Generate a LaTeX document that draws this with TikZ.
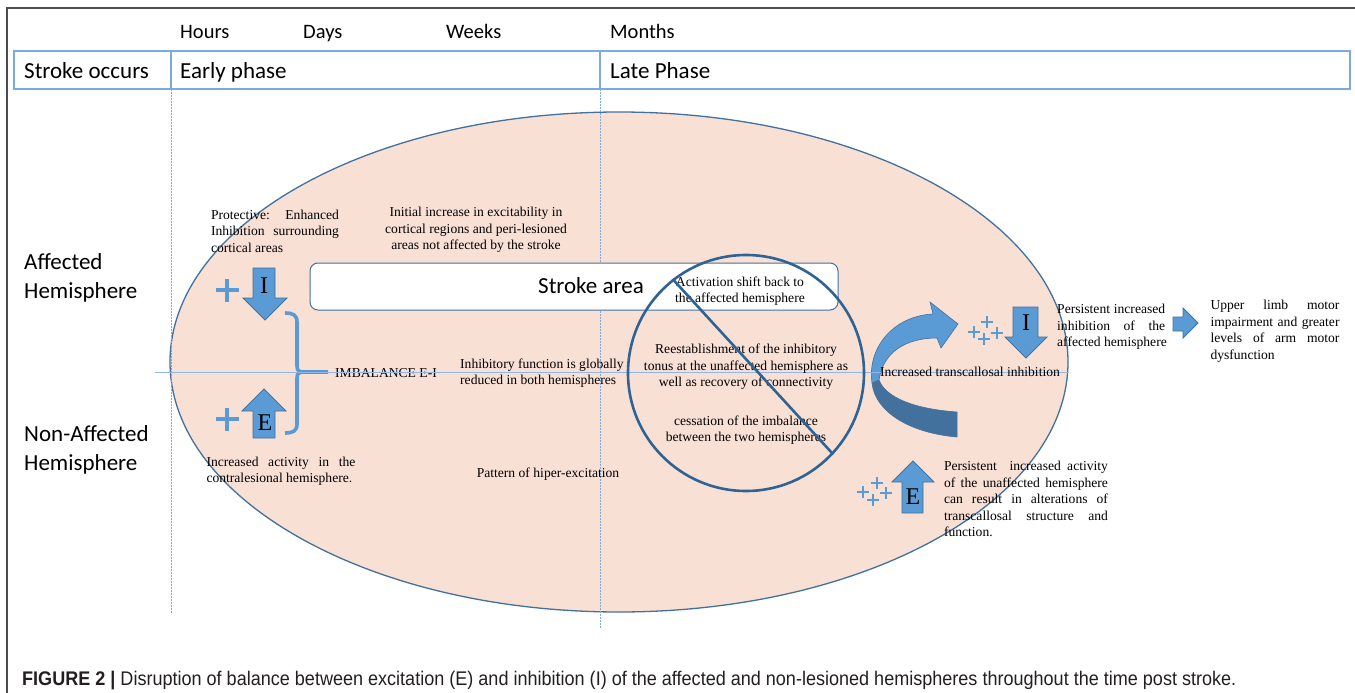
\documentclass[tikz,border=0pt]{standalone}
\usepackage{fontspec}
\setmainfont{Liberation Serif}
\newfontfamily\calfont{Carlito}
\newfontfamily\capfont{Liberation Sans}
\definecolor{bord}{HTML}{41719C}
\definecolor{fillb}{HTML}{5B9BD5}
\definecolor{peach}{HTML}{F9E0D5}
\definecolor{tlblue}{HTML}{79AAE0}
\definecolor{dotblue}{HTML}{8FB6E6}
\definecolor{dotv}{HTML}{7FAADF}
\definecolor{darkc}{HTML}{2F6394}
\definecolor{capgray}{HTML}{231F20}
\newcommand\jline[2]{\makebox[#1][s]{#2}}
\tikzset{
  serif/.style={font=\fontsize{13.6}{16.5}\selectfont, inner sep=0pt, align=center, text=black},
  serifl/.style={serif, align=left},
  calib/.style={font=\calfont\fontsize{23}{29}\selectfont, inner sep=0pt, align=left},
  tlab/.style={font=\calfont\fontsize{20.5}{24}\selectfont, inner sep=0pt, anchor=base west},
  blockarrow/.style={fill=fillb, draw=bord, line width=0.8pt},
  letter/.style={font=\fontsize{24}{24}\selectfont, inner sep=0pt},
  bigplus/.style={draw=fillb, line width=3.4pt},
  smallplus/.style={draw=fillb, line width=2.8pt},
  dotline/.style={draw=dotv, dash pattern=on 1.5pt off 1.5pt, line width=0.9pt},
}
\begin{document}
\begin{tikzpicture}[x=1pt,y=-1pt]
\useasboundingbox (0,0) rectangle (1355,693);
% outer frame
\draw[gray!60!black, line width=1.3pt] (7,693) -- (7,8) -- (1355,8);
% timeline
\draw[tlblue, line width=1.3pt] (14,51) rectangle (1350,89);
\draw[tlblue, line width=1.1pt] (171,51) -- (171,89);
\draw[tlblue, line width=1.1pt] (600,51) -- (600,89);
\node[tlab] (hours) at (180,39) {Hours};
\node[tlab] (days) at (303,39) {Days};
\node[tlab] (weeks) at (446,39) {Weeks};
\node[tlab] (months) at (610,39) {Months};
\node[calib, anchor=base west] (occ) at (24,78) {Stroke occurs};
\node[calib, anchor=base west] (early) at (180,78) {Early phase};
\node[calib, anchor=base west] (late) at (610,78) {Late Phase};
% hemisphere labels
\node[calib, anchor=west] (aff) at (24,278) {Affected\\Hemisphere};
\node[calib, anchor=west] (naff) at (24,450) {Non-Affected\\Hemisphere};
% ellipse
\draw[fill=peach, draw=bord, line width=1.3pt] (619,362) ellipse [x radius=449, y radius=250];
% dotted lines
\draw[dotline] (171,89) -- (171,613);
\draw[dotline] (600,89) -- (600,628);
% stroke area box
\draw[draw=bord, fill=white, line width=1pt, rounded corners=8pt] (310,263) rectangle (838,310);
\node[calib] (sarea) at (591,286) {Stroke area};
% left arrows
\draw[blockarrow] (253,268) -- (275,268) -- (275,298) -- (287,298) -- (265,320) -- (243,298) -- (253,298) -- cycle;
\node[letter] (Ileft) at (264,286) {I};
\draw[blockarrow] (264,389) -- (286,411) -- (275,411) -- (275,438) -- (253,438) -- (253,411) -- (242,411) -- cycle;
\node[letter] (Eleft) at (265,423) {E};
\draw[bigplus] (215.5,290) -- (238.5,290) (227,278.5) -- (227,301.5);
\draw[bigplus] (215.5,419) -- (238.5,419) (227,407.5) -- (227,430.5);
% brace
\draw[fillb, line width=3.6pt] (285,313) .. controls (293,313) and (297,315) .. (297,322) -- (297,366) .. controls (297,371) and (299,372) .. (305,372) -- (328,372);
\draw[fillb, line width=3.6pt] (285,433) .. controls (293,433) and (297,431) .. (297,424) -- (297,378) .. controls (297,373) and (299,372) .. (305,372);
% left texts
\node[serifl] (prot) at (275,231) {\jline{128pt}{Protective:\ \ \ Enhanced}\\\jline{128pt}{Inhibition\ \ surrounding}\\cortical areas};
\node[serif] (init) at (476,230) {Initial increase in excitability in\\cortical regions and peri-lesioned\\areas not affected by the stroke};
\node[serif, anchor=west] (imb) at (335,373) {IMBALANCE E-I};
\node[serifl, anchor=west] (inh) at (460,373) {Inhibitory function is globally\\reduced in both hemispheres};
\node[serifl] (incr) at (281,471) {\jline{149pt}{Increased activity in the}\\contralesional hemisphere.};
\node[serif] (patt) at (548,474) {Pattern of hiper-excitation};
% curved arrow
\draw[fill=bord, draw=bord, line width=0.6pt] (872,383) .. controls (875,412) and (910,433) .. (957,437) -- (957,412) .. controls (915,409) and (886,398) .. (879,380) -- cycle;
\draw[fill=fillb, draw=bord, line width=0.6pt] (872,383) .. controls (867,348) and (893,316) .. (933,314) -- (930,302) -- (958,324) -- (941,348) -- (937,338) .. controls (906,338) and (883,352) .. (879,380) -- cycle;
% horizontal mid line
\draw[dotblue, line width=1pt] (155,372) -- (1068,372);
% circle texts
\node[serif] (act) at (740,291) {Activation shift back to\\the affected hemisphere};
\node[serif] (reest) at (746,367) {Reestablishment of the inhibitory\\tonus at the unaffected hemisphere as\\well as recovery of connectivity};
\node[serif] (cess) at (746,430) {cessation of the imbalance\\between the two hemispheres};
% circle and slash
\node[circle, draw=darkc, line width=2.6pt, minimum size=236pt, inner sep=0pt] (circ) at (746,373) {};
\draw[darkc, line width=2.6pt] (circ.128) -- (circ.-43);
% right side
\node[serif] (trans) at (970,372) {Increased transcallosal inhibition};
\draw[blockarrow] (1013,307) -- (1038,307) -- (1038,337) -- (1047,337) -- (1026,358) -- (1005,337) -- (1013,337) -- cycle;
\node[letter] (Iright) at (1026,323) {I};
\draw[smallplus] (968,332) -- (980,332) (974,326) -- (974,338);
\draw[smallplus] (981,322) -- (993,322) (987,316) -- (987,328);
\draw[smallplus] (978,339) -- (990,339) (984,333) -- (984,345);
\draw[smallplus] (991,333) -- (1003,333) (997,327) -- (997,339);
\node[serifl] (pinh) at (1112,327) {\jline{108pt}{Persistent increased}\\\jline{108pt}{inhibition of the}\\affected hemisphere};
\draw[blockarrow] (1173,317) -- (1183,317) -- (1183,308) -- (1198,323) -- (1183,338) -- (1183,331) -- (1173,331) -- cycle;
\node[serifl] (upper) at (1275,331) {\jline{129pt}{Upper limb motor}\\\jline{129pt}{impairment and greater}\\\jline{129pt}{levels of arm motor}\\dysfunction};
\draw[blockarrow] (913,461) -- (934,482) -- (923,482) -- (923,513) -- (902,513) -- (902,482) -- (892,482) -- cycle;
\node[letter] (Eright) at (913,497) {E};
\draw[smallplus] (857,492) -- (869,492) (863,486) -- (863,498);
\draw[smallplus] (871,483) -- (883,483) (877,477) -- (877,489);
\draw[smallplus] (867,500) -- (879,500) (873,494) -- (873,506);
\draw[smallplus] (880,493) -- (892,493) (886,487) -- (886,499);
\node[serifl] (pact) at (1026,499) {\jline{164pt}{Persistent\ \ increased activity}\\\jline{164pt}{of the unaffected hemisphere}\\\jline{164pt}{can result in alterations of}\\\jline{164pt}{transcallosal structure and}\\function.};
% caption
\node[anchor=base west, inner sep=0pt, text=capgray] (cap) at (22,685) {\resizebox{1214pt}{14.3pt}{\capfont\textbf{FIGURE 2 |} Disruption of balance between excitation (E) and inhibition (I) of the affected and non-lesioned hemispheres throughout the time post stroke.}};
\end{tikzpicture}
\end{document}
